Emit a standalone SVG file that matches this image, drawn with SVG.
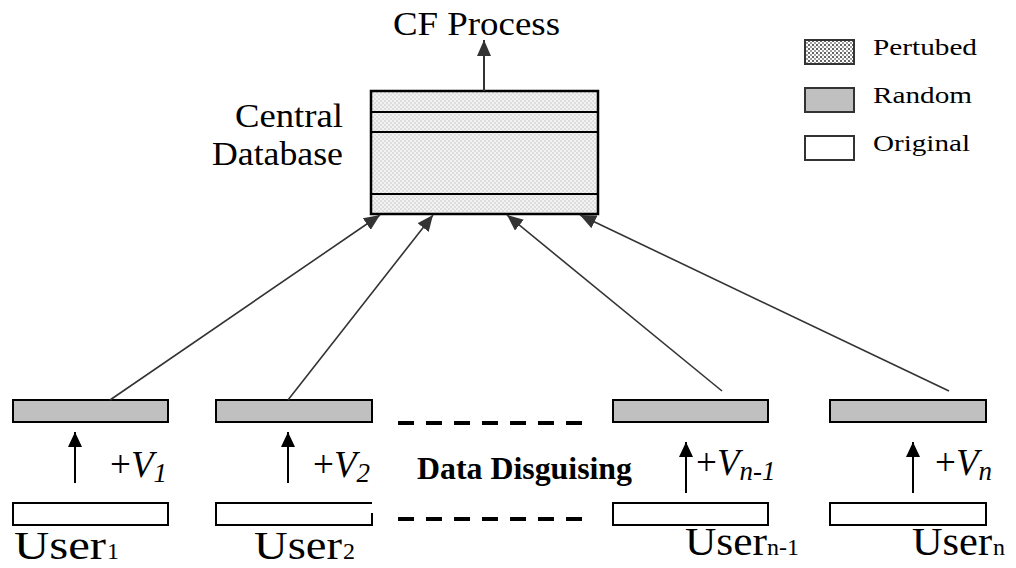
<svg xmlns="http://www.w3.org/2000/svg" width="1016" height="568" viewBox="0 0 1016 568">
<defs>
  <pattern id="dbdots" width="4" height="4" patternUnits="userSpaceOnUse">
    <rect width="4" height="4" fill="#f2f2f2"/>
    <circle cx="1" cy="1" r="0.8" fill="#c4c4c4"/>
    <circle cx="3" cy="3" r="0.8" fill="#c4c4c4"/>
  </pattern>
  <pattern id="legdots" width="4" height="4" patternUnits="userSpaceOnUse">
    <rect width="4" height="4" fill="#ffffff"/>
    <circle cx="1" cy="1" r="1" fill="#303030"/>
    <circle cx="3" cy="3" r="0.9" fill="#707070"/>
  </pattern>
  <marker id="ah" markerUnits="userSpaceOnUse" markerWidth="16" markerHeight="14" refX="16" refY="7" orient="auto">
    <path d="M0,0 L16,7 L0,14 z" fill="#333"/>
  </marker>
  <marker id="ahs" markerUnits="userSpaceOnUse" markerWidth="15" markerHeight="14" refX="15" refY="7" orient="auto">
    <path d="M0,0 L15,7 L0,14 z" fill="#000"/>
  </marker>
  <style>
    text { font-family: "Liberation Serif", "Times New Roman", serif; fill: #000; }
    .rnd { fill: #c0c0c0; stroke: #000; stroke-width: 2; }
    .org { fill: #fff; stroke: #000; stroke-width: 2; }
    .conn { stroke: #333; stroke-width: 1.6; fill: none; marker-end: url(#ah); }
    .up { stroke: #000; stroke-width: 2; fill: none; marker-end: url(#ahs); }
    .dash { stroke: #000; stroke-width: 4; stroke-dasharray: 16 12; }
    .lg { stroke: #333; stroke-width: 2; }
  </style>
</defs>

<g id="cf-process">
  <text x="393" y="35" font-size="34" textLength="167" lengthAdjust="spacingAndGlyphs">CF Process</text>
</g>

<g id="central-database">
  <rect x="371" y="91" width="227" height="123" fill="url(#dbdots)" stroke="#000" stroke-width="2.5"/>
  <line x1="371" y1="112" x2="598" y2="112" stroke="#000" stroke-width="2"/>
  <line x1="371" y1="132" x2="598" y2="132" stroke="#000" stroke-width="2"/>
  <line x1="371" y1="194" x2="598" y2="194" stroke="#000" stroke-width="2"/>
  <text x="235" y="127" font-size="34" textLength="108" lengthAdjust="spacingAndGlyphs">Central</text>
  <text x="212" y="165" font-size="34" textLength="131" lengthAdjust="spacingAndGlyphs">Database</text>
</g>

<g id="legend">
  <rect x="805" y="40" width="49" height="24" fill="url(#legdots)" class="lg"/>
  <text x="873" y="55" font-size="24" textLength="104" lengthAdjust="spacingAndGlyphs">Pertubed</text>
  <rect x="805" y="88" width="49" height="24" fill="#c0c0c0" class="lg"/>
  <text x="873" y="103" font-size="24" textLength="99" lengthAdjust="spacingAndGlyphs">Random</text>
  <rect x="805" y="136" width="49" height="24" fill="#fff" class="lg"/>
  <text x="873" y="151" font-size="24" textLength="97" lengthAdjust="spacingAndGlyphs">Original</text>
</g>

<g id="user1">
  <rect class="rnd" x="13" y="400" width="155" height="22"/>
  <rect class="org" x="13" y="503" width="155" height="22"/>
  <text x="110" y="477" font-size="37">+<tspan font-style="italic">V</tspan><tspan font-size="27" font-style="italic" dy="5">1</tspan></text>
  <text x="14" y="559" font-size="40" textLength="92" lengthAdjust="spacingAndGlyphs">User</text>
  <text x="107" y="559" font-size="24">1</text>
</g>

<g id="user2">
  <rect class="rnd" x="216" y="400" width="156" height="22"/>
  <path class="org" d="M372,513 V525 H216 V503 H372"/>
  <text x="313" y="477" font-size="37">+<tspan font-style="italic">V</tspan><tspan font-size="27" font-style="italic" dy="5">2</tspan></text>
  <text x="254" y="559" font-size="40" textLength="88" lengthAdjust="spacingAndGlyphs">User</text>
  <text x="343" y="559" font-size="24">2</text>
</g>

<g id="data-disguising">
  <line class="dash" x1="398" y1="423" x2="582" y2="423"/>
  <line class="dash" x1="398" y1="519" x2="582" y2="519"/>
  <text x="417" y="479" font-size="31" font-weight="bold" textLength="215" lengthAdjust="spacingAndGlyphs">Data Disguising</text>
</g>

<g id="user-n-1">
  <rect class="rnd" x="613" y="400" width="155" height="22"/>
  <rect class="org" x="613" y="503" width="155" height="22"/>
  <text x="696" y="475" font-size="37">+<tspan font-style="italic">V</tspan><tspan font-size="27" font-style="italic" dy="5">n-1</tspan></text>
  <text x="685" y="555" font-size="40" textLength="82" lengthAdjust="spacingAndGlyphs">User</text>
  <text x="767" y="555" font-size="24">n-1</text>
</g>

<g id="user-n">
  <rect class="rnd" x="830" y="400" width="156" height="22"/>
  <rect class="org" x="830" y="503" width="156" height="22"/>
  <text x="935" y="475" font-size="37">+<tspan font-style="italic">V</tspan><tspan font-size="27" font-style="italic" dy="5">n</tspan></text>
  <text x="912" y="555" font-size="40" textLength="80" lengthAdjust="spacingAndGlyphs">User</text>
  <text x="993" y="555" font-size="24">n</text>
</g>

<g id="connectors">
  <line x1="484" y1="91" x2="484" y2="40" stroke="#333" stroke-width="2" marker-end="url(#ah)"/>
  <line class="conn" x1="110" y1="400" x2="380" y2="215"/>
  <line class="conn" x1="288" y1="400" x2="433" y2="215"/>
  <line class="conn" x1="722" y1="391" x2="507" y2="215"/>
  <line class="conn" x1="949" y1="391" x2="580" y2="215"/>
  <line class="up" x1="75" y1="483" x2="75" y2="432"/>
  <line class="up" x1="288" y1="483" x2="288" y2="432"/>
  <line class="up" x1="686" y1="493" x2="686" y2="442"/>
  <line class="up" x1="913" y1="493" x2="913" y2="442"/>
</g>
</svg>
